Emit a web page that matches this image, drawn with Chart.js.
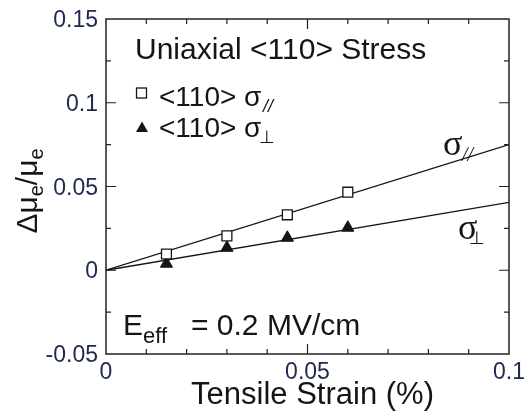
<!DOCTYPE html>
<html lang="en">
<head>
  <meta charset="UTF-8">
  <title>Uniaxial &lt;110&gt; Stress</title>
  <script src="https://cdn.jsdelivr.net/npm/chart.js@4.4.2/dist/chart.umd.min.js"></script>
  <style>
    body { margin: 0; background: #fff; }
    #wrap { width: 525px; height: 411px; }
  </style>
</head>
<body>
  <div id="wrap"><canvas id="c" width="525" height="411"></canvas></div>

  <script>
    // measured mobility change vs tensile strain
    const strain = [0.015, 0.03, 0.045, 0.06];
    const sigmaPar = [0.0097, 0.0205, 0.0331, 0.0466];
    const sigmaPerp = [0.0039, 0.0134, 0.0194, 0.0254];

    // linear fits through the origin
    const fitStrain = [0, 0.1];
    const fitPar = [0, 0.075];
    const fitPerp = [0, 0.0405];

    // axis ticks
    const xLabels = [0, 0.05, 0.1];
    const xLabelText = ['0', '0.05', '0.1'];
    const xMajor = [0.05];
    const xMinor = [0.01, 0.02, 0.03, 0.04, 0.06, 0.07, 0.08, 0.09];
    const yLabels = [-0.05, 0, 0.05, 0.1, 0.15];
    const yLabelText = ['-0.05', '0', '0.05', '0.1', '0.15'];
    const yMajor = [0, 0.05, 0.1];
    const yMinor = [-0.025, 0.025, 0.075, 0.125];

    const SANS = '"Liberation Sans", Arial, sans-serif';
    const SERIF = '"Liberation Serif", "Times New Roman", serif';
    const INK = '#151515';
    const TICK_INK = '#1e2850';

    // draw a sequence of text pieces (for sub/superscripts)
    function runs(ctx, x, y, parts) {
      for (const p of parts) {
        ctx.font = p.font;
        const px = p.x !== undefined ? p.x : x;
        ctx.fillText(p.t, px, y + (p.dy || 0));
        x = px + ctx.measureText(p.t).width;
      }
    }

    function runsWidth(ctx, parts) {
      let w = 0;
      for (const p of parts) { ctx.font = p.font; w += ctx.measureText(p.t).width; }
      return w;
    }

    const axesBox = {
      id: 'axesBox',
      afterDraw(chart) {
        const { ctx, chartArea: a, scales: { x, y } } = chart;
        ctx.save();

        // frame
        ctx.strokeStyle = '#222';
        ctx.lineWidth = 1.5;
        ctx.strokeRect(a.left, a.top, a.right - a.left, a.bottom - a.top);

        // inward ticks on all four sides
        ctx.lineWidth = 1.2;
        ctx.beginPath();
        const tx = (v, len) => {
          const p = x.getPixelForValue(v);
          ctx.moveTo(p, a.bottom); ctx.lineTo(p, a.bottom - len);
          ctx.moveTo(p, a.top); ctx.lineTo(p, a.top + len);
        };
        const ty = (v, len) => {
          const p = y.getPixelForValue(v);
          ctx.moveTo(a.left, p); ctx.lineTo(a.left + len, p);
          ctx.moveTo(a.right, p); ctx.lineTo(a.right - len, p);
        };
        xMajor.forEach(v => tx(v, 10));
        xMinor.forEach(v => tx(v, 5));
        yMajor.forEach(v => ty(v, 10));
        yMinor.forEach(v => ty(v, 5));
        ctx.stroke();

        // tick labels
        ctx.fillStyle = TICK_INK;
        ctx.font = '23px ' + SANS;
        ctx.textBaseline = 'alphabetic';
        ctx.textAlign = 'center';
        xLabels.forEach((v, i) => ctx.fillText(xLabelText[i], x.getPixelForValue(v), 379));
        ctx.textAlign = 'right';
        yLabels.forEach((v, i) => ctx.fillText(yLabelText[i], a.left - 8, y.getPixelForValue(v) + 8));

        // axis titles
        ctx.fillStyle = INK;
        ctx.textAlign = 'center';
        ctx.font = '31px ' + SANS;
        ctx.fillText('Tensile Strain (%)', (a.left + a.right) / 2 + 5, 404);

        ctx.textAlign = 'left';
        const yTitle = [
          { t: 'Δμ', font: '30px ' + SANS },
          { t: 'e', font: '20px ' + SANS, dy: 6 },
          { t: '/μ', font: '30px ' + SANS },
          { t: 'e', font: '20px ' + SANS, dy: 6 }
        ];
        ctx.save();
        ctx.translate(37, 191);
        ctx.rotate(-Math.PI / 2);
        runs(ctx, -runsWidth(ctx, yTitle) / 2, 0, yTitle);
        ctx.restore();

        // panel title and legend
        ctx.font = '30px ' + SANS;
        ctx.fillText('Uniaxial <110> Stress', 135, 59);

        ctx.strokeStyle = INK;
        ctx.lineWidth = 1.3;
        ctx.fillStyle = '#fff';
        ctx.fillRect(136.5, 88, 10, 10);
        ctx.strokeRect(136.5, 88, 10, 10);
        ctx.fillStyle = INK;
        ctx.beginPath();
        ctx.moveTo(142, 121.5); ctx.lineTo(148, 132); ctx.lineTo(136, 132);
        ctx.closePath();
        ctx.fill();

        runs(ctx, 159, 106, [
          { t: '<110> σ', font: '28px ' + SANS },
          { t: '//', font: 'italic 18px ' + SANS, x: 263, dy: 6 }
        ]);
        runs(ctx, 159, 136.5, [
          { t: '<110> σ', font: '28px ' + SANS },
          { t: '⊥', font: '18px "DejaVu Sans", sans-serif', x: 259, dy: 6 }
        ]);

        // line labels
        runs(ctx, 443, 155, [
          { t: 'σ', font: '36px ' + SANS.replace(SANS, SERIF) },
          { t: '//', font: 'italic 20px ' + SERIF, x: 462, dy: 6 }
        ]);
        runs(ctx, 458, 239, [
          { t: 'σ', font: '36px ' + SERIF },
          { t: '⊥', font: '18px "DejaVu Sans", sans-serif', x: 469, dy: 5 }
        ]);

        // field annotation
        runs(ctx, 123, 335, [
          { t: 'E', font: '30px ' + SANS },
          { t: 'eff', font: '22px ' + SANS, dy: 8 },
          { t: '= 0.2 MV/cm', font: '30px ' + SANS, x: 191 }
        ]);

        ctx.restore();
      }
    };

    const points = (xs, ys) => xs.map((v, i) => ({ x: v, y: ys[i] }));

    new Chart(document.getElementById('c'), {
      type: 'scatter',
      data: {
        datasets: [
          {
            data: points(strain, sigmaPar),
            pointStyle: 'rect',
            pointRadius: 7,
            pointBorderWidth: 1.3,
            pointBorderColor: INK,
            pointBackgroundColor: '#fff'
          },
          {
            data: points(strain, sigmaPerp),
            pointStyle: 'triangle',
            pointRadius: 7,
            pointBorderWidth: 1,
            pointBorderColor: INK,
            pointBackgroundColor: INK
          },
          {
            data: points(fitStrain, fitPar),
            showLine: true,
            pointRadius: 0,
            borderColor: INK,
            borderWidth: 1.3
          },
          {
            data: points(fitStrain, fitPerp),
            showLine: true,
            pointRadius: 0,
            borderColor: INK,
            borderWidth: 1.3
          }
        ]
      },
      options: {
        responsive: false,
        animation: false,
        devicePixelRatio: 1,
        events: [],
        layout: { padding: { left: 106, top: 19, right: 16, bottom: 57 } },
        plugins: {
          legend: { display: false },
          tooltip: { enabled: false }
        },
        scales: {
          x: { type: 'linear', min: 0, max: 0.1, display: false },
          y: { type: 'linear', min: -0.05, max: 0.15, display: false }
        }
      },
      plugins: [axesBox]
    });
  </script>
</body>
</html>
